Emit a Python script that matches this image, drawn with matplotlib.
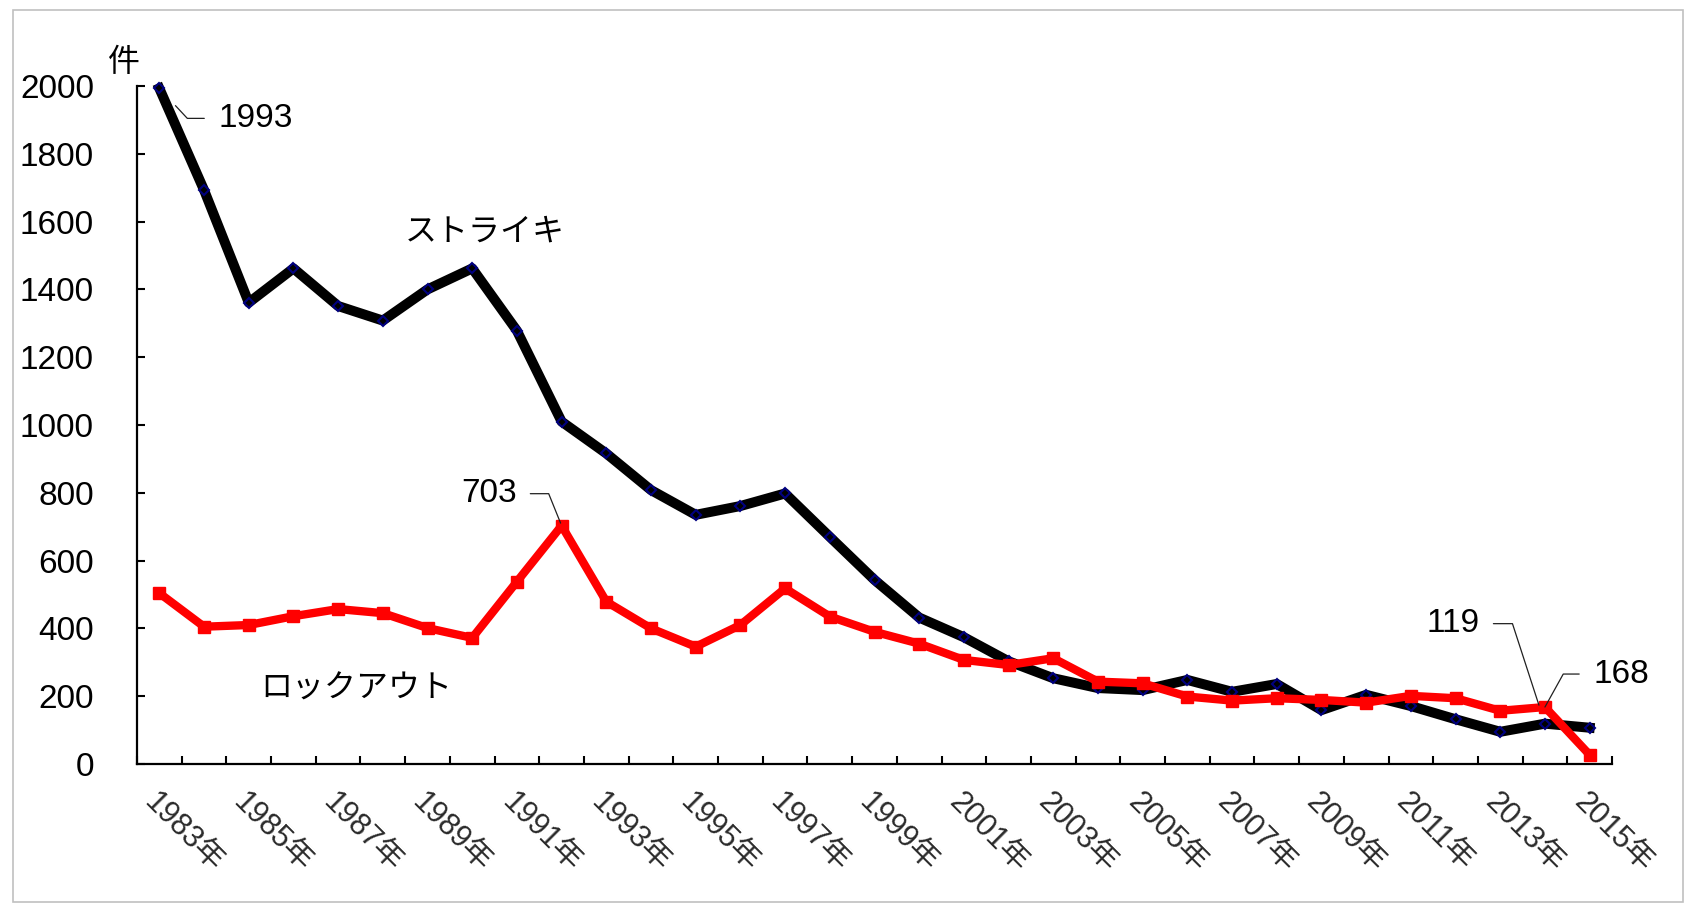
import matplotlib
matplotlib.use("Agg")
import matplotlib.pyplot as plt
from matplotlib.patches import Rectangle
import numpy as np

# 労働争議の件数（1983年〜2015年）
years = list(range(1983, 2016))
year_labels = [f"{y}年" for y in years]
strike = [1993, 1693, 1361, 1462, 1351, 1308, 1400, 1462, 1278, 1010,
          916, 808, 735, 761, 798, 670, 543, 432, 374, 303,
          253, 224, 218, 248, 213, 236, 159, 204, 171, 132,
          95, 119, 107]
lockout = [504, 405, 410, 436, 457, 445, 401, 372, 538, 703,
           479, 400, 346, 410, 518, 435, 390, 355, 307, 292,
           312, 243, 238, 199, 187, 194, 189, 181, 201, 194,
           157, 168, 27]

plt.rcParams['font.family'] = ['Liberation Sans', 'Noto Sans CJK JP', 'DejaVu Sans']

W, H = 1692, 908
fig = plt.figure(figsize=(W / 100, H / 100), dpi=100)
fig.patch.set_facecolor('white')
ax = fig.add_axes([137 / W, (H - 764) / H, 1475 / W, 678 / H])

x = np.arange(len(years))
ax.plot(x, strike, color='black', lw=7.2, marker='D', ms=5.5, mfc='none',
        mec='#000080', mew=1.5, clip_on=False, zorder=3)
ax.plot(x, lockout, color='#ff0000', lw=6, marker='s', ms=8, mfc='#ff0000',
        mec='#ff0000', clip_on=False, zorder=4)

ax.set_xlim(-0.5, len(years) - 0.5)
ax.set_ylim(0, 2000)
ax.set_yticks(np.arange(0, 2001, 200))

# tick marks between categories, labels on every other year
ax.set_xticks(np.arange(-0.5, len(years), 1))
ax.set_xticks(x[::2], minor=True)
ax.set_xticklabels(year_labels[::2], minor=True, rotation=-45, ha='left',
                   va='top', rotation_mode='anchor', fontsize=22, color='#2a2a2a')
ax.tick_params(axis='x', which='major', direction='in', length=6, width=1.5,
               labelbottom=False)
ax.tick_params(axis='x', which='minor', length=0, pad=17)
ax.tick_params(axis='y', direction='in', length=6, width=1.5, pad=31, labelsize=24)

for side in ['top', 'right']:
    ax.spines[side].set_visible(False)
for side in ['left', 'bottom']:
    ax.spines[side].set_linewidth(1.6)


def leader(value, xi, off, angle_b, shrink_b):
    ax.annotate(str(value), xy=(xi, value), xytext=off, textcoords='offset pixels',
                ha='center', va='center', fontsize=24, zorder=5,
                arrowprops=dict(arrowstyle='-', color='#202020', lw=0.9,
                                shrinkA=8, shrinkB=shrink_b,
                                connectionstyle=f'angle,angleA=0,angleB={angle_b},rad=0'))


leader(strike[0], 0, (96, -30), -47, 17)
leader(lockout[9], 9, (-73, 32), 112, 2)
leader(strike[31], 31, (-92, 100), 108, 14)
leader(lockout[31], 31, (76, 33), 61, 0)

ax.text(7.28, 1572, 'ストライキ', fontsize=23, ha='center', va='center',
        family=['Noto Sans CJK JP'])
ax.text(4.4, 221, 'ロックアウト', fontsize=23, ha='center', va='center',
        family=['Noto Sans CJK JP'])
ax.text(-0.0085, 1.0347, '件', transform=ax.transAxes, fontsize=23,
        ha='center', va='center', family=['Noto Sans CJK JP'])

# light frame around the whole chart
fig.add_artist(Rectangle((13 / W, (H - 902) / H), 1670 / W, 892 / H,
                         transform=fig.transFigure, fill=False,
                         ec='#c0c0c0', lw=1.2))

fig.savefig('out.png', dpi=100)
